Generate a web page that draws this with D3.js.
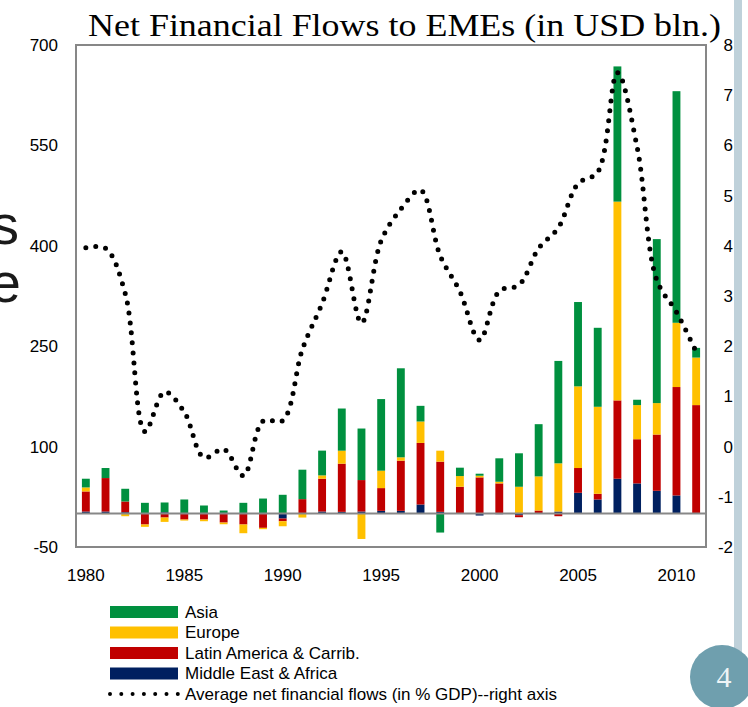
<!DOCTYPE html>
<html>
<head>
<meta charset="utf-8">
<script src="https://cdn.jsdelivr.net/npm/d3@7"></script>
<style>
body { margin: 0; background: #fff; }
svg { display: block; font-family: "Liberation Sans", Arial, sans-serif; }
</style>
</head>
<body>
<svg id="svg1" width="748" height="707"></svg>
<script>
var years = [1980, 1981, 1982, 1983, 1984, 1985, 1986, 1987, 1988, 1989,
    1990, 1991, 1992, 1993, 1994, 1995, 1996, 1997, 1998, 1999,
    2000, 2001, 2002, 2003, 2004, 2005, 2006, 2007, 2008, 2009, 2010, 2011];

// USD bln
var asia = [13, 15, 19, 16, 14.5, 21, 12, 4.5, 16, 22.4,
    28, 44, 37, 63, 77, 107, 133, 23.4, -28.4, 12.5,
    3, 35, 50, 78, 153, 126, 118, 202, 8, 245, 346, 14.5];
var europe = [6, -1, -4, -3.5, -6.5, -1.5, -2.5, -2.5, -13, -2,
    -7.5, -6, 5, 19.4, -38, 26, 5, 32, 16.4, 16,
    2.5, 2.5, 40, 51, 72, 122, 130, 297, 51, 47, 96, 71];
var latam = [30, 50, 16, -16.4, -6, -9, -9, -13.5, -16.4, -21.4,
    -4, 21.5, 49, 72, 47, 34, 75, 92, 75, 40,
    54, 45, -3, 4.5, -4, 37, 8.5, 117, 66, 84, 162, 162];
var mideast = [3, 3, 2, 0, 2, 0, 0, 0, 0, 0,
    -7.5, 0, 3, 2.5, 3, 4, 4, 13.5, 2.5, 0,
    -3, -1, -2.5, 0, 3, 31, 21, 52, 45, 34, 27, 0];

// % of GDP, right axis
var avgFlows = [3.96, 3.95, 3.05, 0.30, 1.09, 0.69, -0.22, -0.05, -0.58, 0.51,
    0.52, 1.94, 2.85, 3.88, 2.46, 4.10, 4.73, 5.11, 3.80, 3.09,
    2.12, 3.10, 3.22, 3.95, 4.36, 5.24, 5.47, 7.45, 5.97, 3.32, 2.68, 1.89];

var leftTicks = [-50, 100, 250, 400, 550, 700];
var rightTicks = [-2, -1, 0, 1, 2, 3, 4, 5, 6, 7, 8];
var yearTicks = [1980, 1985, 1990, 1995, 2000, 2005, 2010];

var seriesKeys = ['mideast', 'latam', 'europe', 'asia'];
var seriesNames = {asia: 'Asia', europe: 'Europe', latam: 'Latin America & Carrib.', mideast: 'Middle East & Africa'};
var colors = {asia: '#00903f', europe: '#ffc000', latam: '#c00000', mideast: '#002060'};

var plotLeft = 76, plotRight = 706, plotTop = 45, plotBottom = 547;

var svg = d3.select('#svg1');

// slide decoration
svg.append('rect')
    .attr('x', 734).attr('y', 0)
    .attr('width', 8).attr('height', 660)
    .attr('fill', '#bfd1da');

svg.append('text')
    .attr('x', 19).attr('y', 244)
    .attr('text-anchor', 'end')
    .attr('font-size', 56)
    .attr('fill', '#1a1a1a')
    .text('s');
svg.append('text')
    .attr('x', 21).attr('y', 302)
    .attr('text-anchor', 'end')
    .attr('font-size', 56)
    .attr('fill', '#1a1a1a')
    .text('e');

var x = d3.scaleBand()
    .domain(years)
    .range([plotLeft, plotRight])
    .paddingInner(0.6)
    .paddingOuter(0.3);

var y = d3.scaleLinear()
    .domain([-50, 700])
    .range([plotBottom, plotTop]);

var y2 = d3.scaleLinear()
    .domain([-2, 8])
    .range([plotBottom, plotTop]);

var rows = years.map(function (yr, i) {
    return {year: yr, asia: asia[i], europe: europe[i], latam: latam[i], mideast: mideast[i]};
});

var stacked = d3.stack()
    .keys(seriesKeys)
    .offset(d3.stackOffsetDiverging)(rows);

svg.append('rect')
    .attr('x', plotLeft).attr('y', plotTop)
    .attr('width', plotRight - plotLeft).attr('height', plotBottom - plotTop)
    .attr('fill', '#fff');

svg.selectAll('g.series')
    .data(stacked)
    .enter()
    .append('g')
    .attr('class', 'series')
    .attr('fill', function (s) { return colors[s.key]; })
    .selectAll('rect')
    .data(function (s) { return s; })
    .enter()
    .append('rect')
    .attr('x', function (d) { return x(d.data.year); })
    .attr('width', x.bandwidth())
    .attr('y', function (d) { return y(Math.max(d[0], d[1])); })
    .attr('height', function (d) { return Math.abs(y(d[0]) - y(d[1])); });

// zero line
svg.append('line')
    .attr('x1', plotLeft).attr('x2', plotRight)
    .attr('y1', y(0)).attr('y2', y(0))
    .attr('stroke', '#878787')
    .attr('stroke-width', 2);

// frame
svg.append('rect')
    .attr('x', plotLeft).attr('y', plotTop)
    .attr('width', plotRight - plotLeft).attr('height', plotBottom - plotTop)
    .attr('fill', 'none')
    .attr('stroke', '#878787')
    .attr('stroke-width', 2);

var line = d3.line()
    .x(function (d, i) { return x(years[i]) + x.bandwidth() / 2; })
    .y(function (d) { return y2(d); })
    .curve(d3.curveCatmullRom.alpha(0.5));

svg.append('path')
    .datum(avgFlows)
    .attr('d', line)
    .attr('fill', 'none')
    .attr('stroke', '#000')
    .attr('stroke-width', 5)
    .attr('stroke-linecap', 'round')
    .attr('stroke-dasharray', '0,10');

// axes (plain hyphen for negatives, like the original)
var plain = function (d) { return String(d); };

var leftAxis = d3.axisLeft(y).tickValues(leftTicks).tickFormat(plain).tickSize(0).tickPadding(18);
svg.append('g')
    .attr('transform', 'translate(' + plotLeft + ',0)')
    .call(leftAxis)
    .call(function (g) { g.select('.domain').remove(); })
    .selectAll('text')
    .attr('font-size', 17)
    .attr('font-family', '"Liberation Sans", Arial, sans-serif')
    .attr('fill', '#000');

var rightAxis = d3.axisRight(y2).tickValues(rightTicks).tickFormat(plain).tickSize(0).tickPadding(0);
svg.append('g')
    .attr('transform', 'translate(733,0)')
    .call(rightAxis)
    .call(function (g) { g.select('.domain').remove(); })
    .selectAll('text')
    .attr('text-anchor', 'end')
    .attr('font-size', 17)
    .attr('font-family', '"Liberation Sans", Arial, sans-serif')
    .attr('fill', '#000');

var bottomAxis = d3.axisBottom(x).tickValues(yearTicks).tickSize(0).tickPadding(22);
svg.append('g')
    .attr('transform', 'translate(0,' + plotBottom + ')')
    .call(bottomAxis)
    .call(function (g) { g.select('.domain').remove(); })
    .selectAll('text')
    .attr('font-size', 17)
    .attr('font-family', '"Liberation Sans", Arial, sans-serif')
    .attr('fill', '#000');

// title
svg.append('text')
    .attr('x', 88).attr('y', 36)
    .attr('font-family', '"Liberation Serif", "Times New Roman", serif')
    .attr('font-size', 31)
    .attr('textLength', 633)
    .attr('lengthAdjust', 'spacingAndGlyphs')
    .attr('fill', '#000')
    .text('Net Financial Flows to EMEs (in USD bln.)');

// legend
var legendKeys = ['asia', 'europe', 'latam', 'mideast'];
var legend = svg.append('g');

legend.selectAll('rect')
    .data(legendKeys)
    .enter()
    .append('rect')
    .attr('x', 110)
    .attr('y', function (d, i) { return 606 + i * 20.5; })
    .attr('width', 68)
    .attr('height', 12)
    .attr('fill', function (d) { return colors[d]; });

legend.selectAll('text')
    .data(legendKeys.concat(['avg']))
    .enter()
    .append('text')
    .attr('x', 185)
    .attr('y', function (d, i) { return 612 + i * 20.5; })
    .attr('dy', '0.35em')
    .attr('font-size', 17)
    .attr('fill', '#000')
    .text(function (d) { return d === 'avg' ? 'Average net financial flows (in % GDP)--right axis' : seriesNames[d]; });

legend.append('line')
    .attr('x1', 110).attr('x2', 178)
    .attr('y1', 694).attr('y2', 694)
    .attr('stroke', '#000')
    .attr('stroke-width', 4)
    .attr('stroke-linecap', 'round')
    .attr('stroke-dasharray', '0,11.3');

// page number badge
svg.append('circle')
    .attr('cx', 722).attr('cy', 677)
    .attr('r', 32)
    .attr('fill', '#6f9fae');
svg.append('text')
    .attr('x', 724).attr('y', 687)
    .attr('text-anchor', 'middle')
    .attr('font-family', '"Liberation Serif", "Times New Roman", serif')
    .attr('font-size', 30)
    .attr('fill', '#eef4f6')
    .text('4');
</script>
</body>
</html>
